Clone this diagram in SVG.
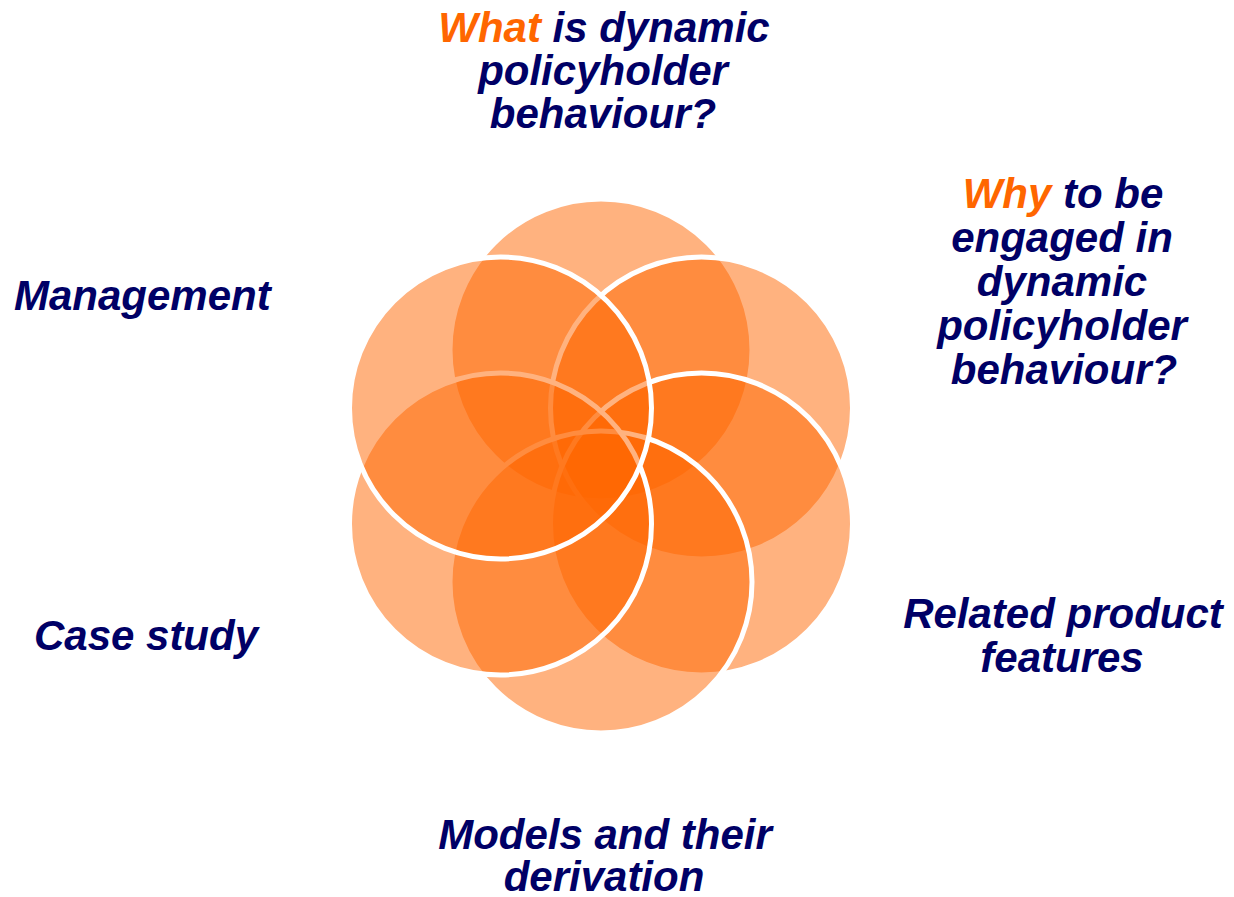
<svg xmlns="http://www.w3.org/2000/svg" width="1234" height="897" viewBox="0 0 1234 897">
<style>
.petal{fill:#FF6600;fill-opacity:0.5;stroke:#FFFFFF;stroke-width:5}
.lbl{font-family:"Liberation Sans",Arial,sans-serif;font-size:42px;font-weight:bold;font-style:italic;fill:#000066}
.mid{text-anchor:middle}
.hl{fill:#FF6600}
</style>
<rect width="1234" height="897" fill="#FFFFFF"/>
<g id="flower">
<g id="petal-top"><circle class="petal" cx="601" cy="350" r="151"/></g>
<g id="petal-upper-right"><circle class="petal" cx="701.5" cy="408" r="151"/></g>
<g id="petal-lower-right"><circle class="petal" cx="701.5" cy="524" r="151"/></g>
<g id="petal-bottom"><circle class="petal" cx="601" cy="582" r="151"/></g>
<g id="petal-lower-left"><circle class="petal" cx="500.5" cy="524" r="151"/></g>
<g id="petal-upper-left"><circle class="petal" cx="500.5" cy="408" r="151"/></g>
</g>
<g id="connectors"/>
<g id="label-what">
<text class="lbl mid" x="604" y="42"><tspan class="hl">What</tspan> is dynamic</text>
<text class="lbl mid" x="603" y="85">policyholder</text>
<text class="lbl mid" x="603" y="128">behaviour?</text>
</g>
<g id="label-why">
<text class="lbl mid" x="1063" y="208"><tspan class="hl">Why</tspan> to be</text>
<text class="lbl mid" x="1062" y="252">engaged in</text>
<text class="lbl mid" x="1062" y="296">dynamic</text>
<text class="lbl mid" x="1062" y="340">policyholder</text>
<text class="lbl mid" x="1064" y="384">behaviour?</text>
</g>
<g id="label-management">
<text class="lbl" x="14" y="310">Management</text>
</g>
<g id="label-features">
<text class="lbl mid" x="1063" y="628">Related product</text>
<text class="lbl mid" x="1062" y="672">features</text>
</g>
<g id="label-case">
<text class="lbl mid" x="146" y="650">Case study</text>
</g>
<g id="label-models">
<text class="lbl mid" x="605" y="849">Models and their</text>
<text class="lbl mid" x="604" y="891">derivation</text>
</g>
</svg>
